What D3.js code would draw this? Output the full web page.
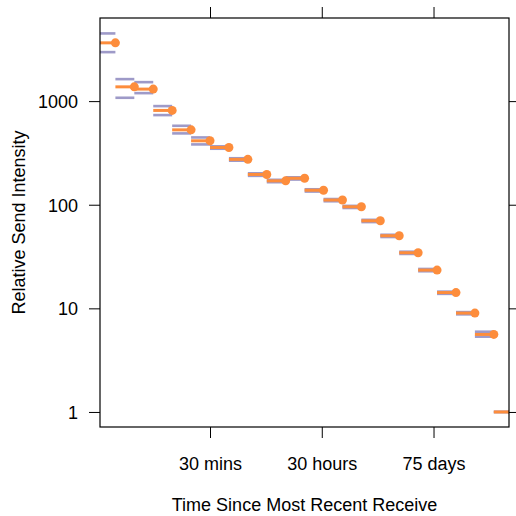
<!DOCTYPE html>
<html><head><meta charset="utf-8">
<script src="https://cdn.jsdelivr.net/npm/d3@7"></script>
<style>body{margin:0;background:#fff}svg{display:block}text{font-family:"Liberation Sans",Arial,sans-serif;fill:#000}</style>
</head><body><svg id="c" width="516" height="516"></svg>
<script>
// Bin edges (seconds since most recent receive)
const binStart = [28.125, 56.25, 112.5, 225, 450, 900, 1800, 3600, 7200, 14400, 28800, 57600, 115200, 230400, 460800, 921600, 1843200, 3686400, 7372800, 14745600, 29491200, 58982400];
const binEnd   = [56.25, 112.5, 225, 450, 900, 1800, 3600, 7200, 14400, 28800, 57600, 115200, 230400, 460800, 921600, 1843200, 3686400, 7372800, 14745600, 29491200, 58982400, 117964800];
// Estimated relative send intensity (orange) and interval bounds (purple)
const estimate = [3650, 1373, 1306, 813, 528, 414, 357, 274, 196, 170, 180, 138, 111, 95.5, 70, 50.2, 34.4, 23.4, 14.2, 9.0, 5.6, 1.0];
const upper    = [4500, 1630, 1524, 895, 578, 446, 366, 281, 201, 174, 184, 141, 113.5, 97.5, 71.5, 51.3, 35.2, 24, 14.5, 9.2, 5.95, 1.0];
const lower    = [2970, 1077, 1194, 733, 488, 382, 347, 266, 190, 165, 175, 134, 108, 93, 68, 48.8, 33.5, 22.8, 13.8, 8.75, 5.33, 1.0];
// Axes
const xTickValues = [1800, 108000, 6480000];
const xTickLabels = ["30 mins", "30 hours", "75 days"];
const yTickValues = [1, 10, 100, 1000];
const yTickLabels = ["1", "10", "100", "1000"];
const xDomain = [32, 1.0287e8];
const yDomain = [0.716, 6340];
const xTitle = "Time Since Most Recent Receive";
const yTitle = "Relative Send Intensity";

const L = 100, R = 509, T = 18, B = 427;
const svg = d3.select("#c");
const x = d3.scaleLog().domain(xDomain).range([L, R]);
const y = d3.scaleLog().domain(yDomain).range([B, T]);

const bins = estimate.map((v, i) => ({s: binStart[i], e: binEnd[i], v, lo: lower[i], hi: upper[i]}));

svg.append("clipPath").attr("id", "clip").append("rect")
  .attr("x", L).attr("y", T).attr("width", R - L).attr("height", B - T);
const g = svg.append("g").attr("clip-path", "url(#clip)");

const purple = "#9e9ac8", orange = "#fd8d3c";
["lo", "hi"].forEach(k => {
  g.selectAll(null).data(bins).enter().append("line")
    .attr("x1", d => x(d.s)).attr("x2", d => x(d.e))
    .attr("y1", d => y(d[k])).attr("y2", d => y(d[k]))
    .attr("stroke", purple).attr("stroke-width", 2.6);
});
g.selectAll(null).data(bins).enter().append("line")
  .attr("x1", d => x(d.s)).attr("x2", d => x(d.e))
  .attr("y1", d => y(d.v)).attr("y2", d => y(d.v))
  .attr("stroke", orange).attr("stroke-width", 3);
g.selectAll(null).data(bins).enter().append("circle")
  .attr("cx", d => x(d.e)).attr("cy", d => y(d.v)).attr("r", 4.5)
  .attr("fill", orange);

// Axes
const fs = 18;
const axB = svg.append("g").attr("transform", `translate(0,${B})`)
  .call(d3.axisBottom(x).tickValues(xTickValues).tickFormat((d, i) => xTickLabels[i]).tickSize(11).tickPadding(19));
const axT = svg.append("g").attr("transform", `translate(0,${T})`)
  .call(d3.axisTop(x).tickValues(xTickValues).tickFormat("").tickSize(11));
const axL = svg.append("g").attr("transform", `translate(${L},0)`)
  .call(d3.axisLeft(y).tickValues(yTickValues).tickFormat((d, i) => yTickLabels[i]).tickSize(11).tickPadding(11));
const axR = svg.append("g").attr("transform", `translate(${R},0)`)
  .call(d3.axisRight(y).tickValues(yTickValues).tickFormat("").tickSize(11));
[axB, axT, axL, axR].forEach(a => {
  a.select(".domain").remove();
  a.selectAll("line").attr("stroke", "#000").attr("stroke-width", 1);
  a.selectAll("text").attr("font-size", fs).attr("font-family", "Liberation Sans, Arial, sans-serif");
});
axL.selectAll("text").attr("dy", "0.36em");

svg.append("rect").attr("x", L).attr("y", T).attr("width", R - L).attr("height", B - T)
  .attr("fill", "none").attr("stroke", "#000").attr("stroke-width", 1.2);

svg.append("text").attr("x", (L + R) / 2).attr("y", 511).attr("text-anchor", "middle")
  .attr("font-size", fs).text(xTitle);
svg.append("text").attr("transform", `translate(25,${(T + B) / 2}) rotate(-90)`)
  .attr("text-anchor", "middle").attr("font-size", fs).text(yTitle);
</script></body></html>
